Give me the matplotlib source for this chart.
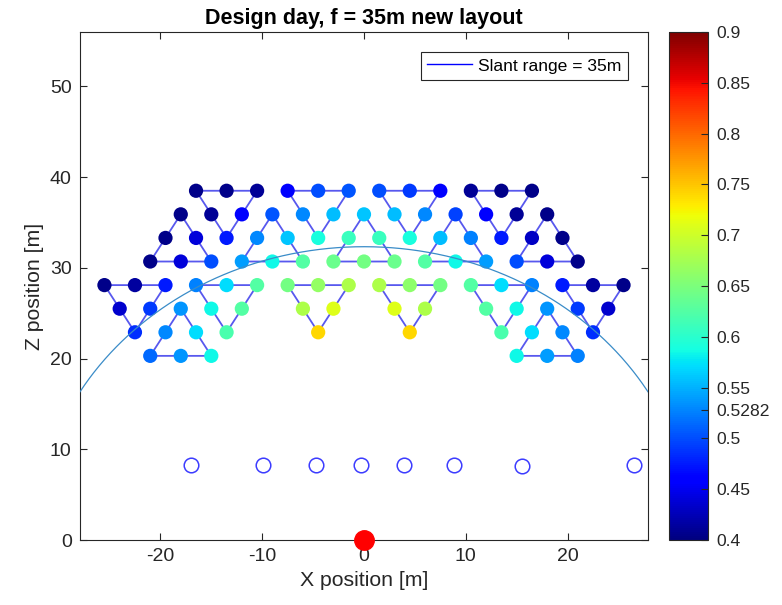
import numpy as np
import matplotlib
matplotlib.use('Agg')
import matplotlib.pyplot as plt
from matplotlib.lines import Line2D

plt.rcParams['font.family'] = ['Liberation Sans', 'DejaVu Sans']
plt.rcParams['axes.unicode_minus'] = False

# heliostat rows (z position of each row, x positions, efficiency)
row_z = [38.5, 35.9, 33.3, 30.7, 28.1, 25.5, 22.9, 20.3]
row_x = [
    [-16.5, -13.5, -10.5, -7.5, -4.5, -1.5, 1.5, 4.5, 7.5, 10.5, 13.5, 16.5],
    [-18, -15, -12, -9, -6, -3, 0, 3, 6, 9, 12, 15, 18],
    [-19.5, -16.5, -13.5, -10.5, -7.5, -4.5, -1.5, 1.5, 4.5, 7.5, 10.5, 13.5, 16.5, 19.5],
    [-21, -18, -15, -12, -9, -6, -3, 0, 3, 6, 9, 12, 15, 18, 21],
    [-25.5, -22.5, -19.5, -16.5, -13.5, -10.5, -7.5, -4.5, -1.5,
     1.5, 4.5, 7.5, 10.5, 13.5, 16.5, 19.5, 22.5, 25.5],
    [-24, -21, -18, -15, -12, -6, -3, 3, 6, 12, 15, 18, 21, 24],
    [-22.5, -19.5, -16.5, -13.5, -4.5, 4.5, 13.5, 16.5, 19.5, 22.5],
    [-21, -18, -15, 15, 18, 21],
]
row_eff = [
    [0.405, 0.405, 0.41, 0.455, 0.50, 0.505, 0.50, 0.49, 0.455, 0.41, 0.405, 0.405],
    [0.405, 0.41, 0.455, 0.505, 0.53, 0.555, 0.56, 0.555, 0.53, 0.495, 0.455, 0.41, 0.405],
    [0.405, 0.44, 0.475, 0.53, 0.56, 0.59, 0.61, 0.61, 0.59, 0.555, 0.525, 0.475, 0.43, 0.405],
    [0.405, 0.44, 0.50, 0.54, 0.585, 0.625, 0.64, 0.645, 0.64, 0.625, 0.585, 0.54, 0.50, 0.44, 0.405],
    [0.405, 0.415, 0.475, 0.525, 0.57, 0.625, 0.645, 0.665, 0.68,
     0.68, 0.66, 0.645, 0.625, 0.57, 0.525, 0.475, 0.415, 0.405],
    [0.435, 0.49, 0.535, 0.585, 0.625, 0.68, 0.71, 0.71, 0.68, 0.625, 0.585, 0.535, 0.49, 0.435],
    [0.485, 0.53, 0.57, 0.62, 0.74, 0.74, 0.62, 0.57, 0.53, 0.485],
    [0.515, 0.535, 0.585, 0.585, 0.54, 0.525],
]

# triangles: (row, x) of top-left corner for inverted, apex for upright
inv_tri = [(0, -16.5), (0, -7.5), (0, 1.5), (0, 10.5),
           (4, -25.5), (4, -16.5), (4, -7.5), (4, 1.5), (4, 10.5), (4, 19.5)]
up_tri = [(1, -18), (1, -9), (1, 0), (1, 9), (1, 18), (5, -18), (5, 18)]
side = 6.0

# hollow markers
rx_x = [-17.0, -9.9, -4.7, -0.3, 3.9, 8.8, 15.5, 26.5]
rx_z = [8.3, 8.3, 8.3, 8.3, 8.3, 8.3, 8.2, 8.3]

slant_range = 35.0
depth = 13.4
cb_ticks = [0.4, 0.45, 0.5, 0.5282, 0.55, 0.6, 0.65, 0.7, 0.75, 0.8, 0.85, 0.9]

dark = (0.15, 0.15, 0.15)
fig = plt.figure(figsize=(7.82, 6.05), dpi=100)
ax = fig.add_axes([0.1023, 0.1074, 0.7263, 0.8397])
cax = fig.add_axes([0.8555, 0.1074, 0.0499, 0.8397])

line_col = '#5858ee'
for r, x in inv_tri:
    ax.plot([x, x + side, x + side / 2, x],
            [row_z[r], row_z[r], row_z[r + 2], row_z[r]],
            '-', color=line_col, lw=1.3, zorder=1)
for r, x in up_tri:
    ax.plot([x, x + side / 2, x - side / 2, x],
            [row_z[r], row_z[r + 2], row_z[r + 2], row_z[r]],
            '-', color=line_col, lw=1.3, zorder=1)

hx = np.concatenate(row_x)
hz = np.concatenate([[z] * len(xs) for z, xs in zip(row_z, row_x)])
he = np.concatenate(row_eff)
sc = ax.scatter(hx, hz, c=he, cmap='jet', vmin=0.4, vmax=0.9, s=105,
                edgecolors='none', zorder=2)

xlim = 27.9
xx = np.linspace(-xlim, xlim, 500)
rr = np.sqrt(slant_range ** 2 - depth ** 2)
ax.plot(xx, np.sqrt(rr ** 2 - xx ** 2), color='#3a8cc8', lw=0.9, zorder=3)

ax.plot(rx_x, rx_z, 'o', mfc='none', mec='#3c3cff', ms=10.5, mew=1.1, zorder=3)
ax.plot([0], [0], 'o', color='red', ms=14, clip_on=False, zorder=5)

ax.set_xlim(-xlim, xlim)
ax.set_ylim(0, 56)
ax.set_xticks([-20, -10, 0, 10, 20])
ax.set_yticks([0, 10, 20, 30, 40, 50])
ax.tick_params(direction='in', top=True, right=True, length=5, width=0.8,
               color=dark, labelcolor=dark, labelsize=14, pad=6)
for s in ax.spines.values():
    s.set_color(dark)
    s.set_linewidth(0.8)
ax.set_xlabel('X position [m]', fontsize=15.3, color=dark, labelpad=4)
ax.set_ylabel('Z position [m]', fontsize=15.3, color=dark, labelpad=4)
ax.set_title('Design day, f = 35m new layout', fontsize=15.5, fontweight='bold', pad=6)

handle = Line2D([], [], color='blue', lw=1)
leg = ax.legend([handle], ['Slant range = 35m'], loc='upper right', fontsize=12.6,
                handlelength=2.6, handletextpad=0.35, borderpad=0.35,
                borderaxespad=1.15, fancybox=False, framealpha=1)
leg.get_frame().set_edgecolor(dark)
leg.get_frame().set_linewidth(0.8)

cb = fig.colorbar(sc, cax=cax, ticks=cb_ticks)
cb.ax.set_yticklabels(['%g' % t for t in cb_ticks])
cb.ax.tick_params(direction='in', length=5, width=0.8, color=dark,
                  labelcolor=dark, labelsize=12.6, pad=6)
cb.outline.set_edgecolor(dark)
cb.outline.set_linewidth(0.8)

fig.savefig('out.png', dpi=100)
